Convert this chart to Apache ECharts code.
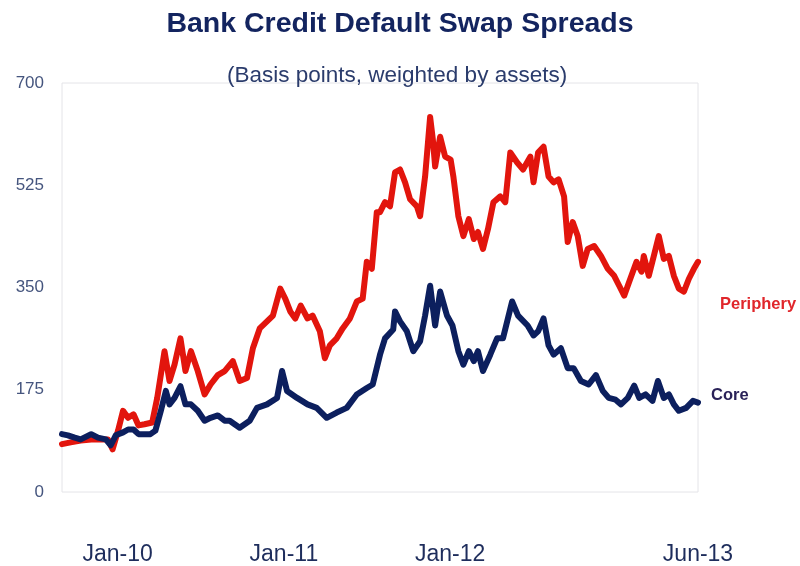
<!DOCTYPE html>
<html>
<head>
<meta charset="utf-8">
<script src="https://cdn.jsdelivr.net/npm/echarts@6/dist/echarts.min.js"></script>
<style>
  html, body { margin: 0; padding: 0; background: #ffffff; }
  #chart { width: 800px; height: 566px; }
</style>
</head>
<body>
<div id="chart"></div>
<script>
// Bank CDS spreads, basis points weighted by assets
const coreDates = [
  '2009-09-01','2009-09-14','2009-09-29','2009-10-12','2009-11-04','2009-11-19','2009-12-06','2009-12-17','2009-12-28',
  '2010-01-13','2010-01-24','2010-02-05','2010-02-16','2010-03-01','2010-03-14','2010-03-25','2010-04-06','2010-04-17',
  '2010-04-25','2010-05-06','2010-05-19','2010-05-30','2010-06-11','2010-06-26','2010-07-11','2010-07-24','2010-08-09',
  '2010-08-24','2010-09-04','2010-09-26','2010-10-18','2010-11-03','2010-11-25','2010-12-17','2010-12-28','2011-01-08',
  '2011-01-30','2011-02-22','2011-03-14','2011-04-05','2011-04-27','2011-05-19','2011-06-10','2011-07-02','2011-07-15',
  '2011-07-31','2011-08-11','2011-08-29','2011-09-02','2011-09-13','2011-09-28','2011-10-12','2011-10-27','2011-11-07',
  '2011-11-18','2011-11-29','2011-12-10','2011-12-25','2012-01-06','2012-01-19','2012-01-30','2012-02-11','2012-02-22',
  '2012-03-02','2012-03-13','2012-03-29','2012-04-13','2012-04-26','2012-05-16','2012-05-29','2012-06-19','2012-07-02',
  '2012-07-12','2012-07-24','2012-08-04','2012-08-15','2012-08-31','2012-09-15','2012-09-28','2012-10-14','2012-10-31',
  '2012-11-16','2012-12-01','2012-12-14','2012-12-29','2013-01-10','2013-01-25','2013-02-08','2013-02-19','2013-03-05',
  '2013-03-20','2013-04-01','2013-04-14','2013-04-25','2013-05-06','2013-05-17','2013-06-02','2013-06-17','2013-06-28'
];
const coreValues = [
  99, 97, 93, 90, 99, 93, 90, 80, 97,
  102, 107, 107, 99, 99, 99, 105, 139, 173,
  150, 161, 181, 150, 150, 139, 122, 127, 131,
  122, 122, 110, 122, 144, 150, 161, 207, 173,
  161, 150, 144, 127, 136, 144, 167, 178, 184,
  235, 263, 278, 309, 292, 275, 241, 258, 302,
  353, 285, 343, 302, 285, 241, 218, 241, 224,
  241, 207, 235, 263, 263, 326, 302, 285, 268,
  275, 297, 251, 235, 246, 212, 212, 190, 184,
  200, 173, 161, 158, 150, 161, 182, 161, 167,
  156, 190, 161, 167, 150, 139, 144, 156, 153
];

const peripheryDates = [
  '2009-09-01','2009-09-20','2009-10-12','2009-11-04','2009-12-11','2009-12-21','2010-01-02','2010-01-13','2010-01-24',
  '2010-02-05','2010-02-16','2010-03-01','2010-03-18','2010-03-29','2010-04-14','2010-04-25','2010-05-06','2010-05-19',
  '2010-05-30','2010-06-11','2010-06-26','2010-07-11','2010-07-24','2010-08-09','2010-08-24','2010-09-11','2010-09-26',
  '2010-10-12','2010-10-25','2010-11-09','2010-11-25','2010-12-08','2010-12-24','2011-01-04','2011-01-15','2011-01-26',
  '2011-02-07','2011-02-22','2011-03-05','2011-03-21','2011-04-01','2011-04-12','2011-04-27','2011-05-10','2011-05-26',
  '2011-06-10','2011-06-23','2011-07-02','2011-07-13','2011-07-24','2011-07-31','2011-08-11','2011-08-22','2011-09-02',
  '2011-09-13','2011-09-24','2011-10-05','2011-10-20','2011-10-27','2011-11-07','2011-11-18','2011-11-24','2011-11-29',
  '2011-12-10','2011-12-21','2012-01-02','2012-01-08','2012-01-19','2012-01-30','2012-02-11','2012-02-22','2012-03-02',
  '2012-03-13','2012-03-24','2012-04-05','2012-04-20','2012-05-01','2012-05-12','2012-05-27','2012-06-09','2012-06-25',
  '2012-07-02','2012-07-12','2012-07-24','2012-08-04','2012-08-15','2012-08-26','2012-09-07','2012-09-15','2012-09-26',
  '2012-10-07','2012-10-18','2012-10-29','2012-11-12','2012-11-27','2012-12-12','2012-12-26','2013-01-06','2013-01-17',
  '2013-01-28','2013-02-13','2013-02-24','2013-03-01','2013-03-12','2013-03-23','2013-04-03','2013-04-14','2013-04-25',
  '2013-05-06','2013-05-17','2013-05-28','2013-06-08','2013-06-19','2013-06-28'
];
const peripheryValues = [
  82, 85, 88, 90, 90, 73, 105, 139, 127,
  133, 114, 116, 119, 161, 241, 190, 218, 263,
  207, 241, 207, 167, 184, 200, 207, 224, 190,
  195, 246, 280, 292, 302, 348, 331, 309, 297,
  319, 297, 302, 275, 229, 251, 263, 280, 297,
  326, 331, 394, 382, 479, 479, 496, 489, 547,
  552, 530, 501, 489, 472, 540, 642, 603, 557,
  608, 574, 569, 540, 472, 438, 467, 433, 445,
  416, 450, 496, 506, 496, 581, 564, 552, 574,
  530, 581, 591, 540, 530, 535, 506, 428, 462,
  438, 387, 416, 421, 404, 382, 370, 353, 336,
  360, 394, 377, 404, 370, 404, 438, 399, 404,
  370, 348, 343, 365, 382, 394
];

// Axis ticks
const xStart = '2009-09-01';
const xEnd = '2013-06-28';
const xTickDates = ['2010-01-01', '2011-01-01', '2012-01-01', '2013-06-28'];
const xTickLabels = ['Jan-10', 'Jan-11', 'Jan-12', 'Jun-13'];
const yTicks = [0, 175, 350, 525, 700];

const toTime = d => Date.UTC(+d.slice(0, 4), +d.slice(5, 7) - 1, +d.slice(8, 10));
const pair = (dates, values) => dates.map((d, i) => [toTime(d), values[i]]);
const xTickTimes = xTickDates.map(toTime);

const FONT = '"Liberation Sans", Arial, Helvetica, sans-serif';
const chart = echarts.init(document.getElementById('chart'), null, { renderer: 'canvas' });

chart.setOption({
  backgroundColor: '#ffffff',
  animation: false,
  title: [
    {
      text: 'Bank Credit Default Swap Spreads',
      left: 'center', top: 5,
      textStyle: { fontFamily: FONT, fontSize: 28.5, fontWeight: 'bold', color: '#13245f' }
    },
    {
      text: '(Basis points, weighted by assets)',
      left: 222, top: 59,
      textStyle: { fontFamily: FONT, fontSize: 22.5, fontWeight: 'normal', color: '#2b3c6c' }
    }
  ],
  grid: {
    left: 62, right: 102, top: 83, bottom: 71,
    show: true, borderColor: '#e4e4e8', borderWidth: 1, backgroundColor: '#ffffff'
  },
  xAxis: {
    type: 'value',
    min: toTime(xStart),
    max: toTime(xEnd),
    axisLine: { show: false },
    axisTick: { show: false },
    splitLine: { show: false },
    axisLabel: {
      customValues: xTickTimes,
      margin: 51,
      fontFamily: FONT, fontSize: 23, color: '#1e2d5c',
      formatter: function (v) {
        let best = 0;
        xTickTimes.forEach((tt, i) => { if (Math.abs(tt - v) < Math.abs(xTickTimes[best] - v)) best = i; });
        return xTickLabels[best];
      }
    }
  },
  yAxis: {
    type: 'value',
    min: 0, max: 700, interval: 175,
    axisLine: { show: false },
    axisTick: { show: false },
    splitLine: { show: false },
    axisLabel: {
      margin: 18,
      padding: [5, 0, 0, 0],
      fontFamily: FONT, fontSize: 17, color: '#45557e',
      formatter: v => (yTicks.indexOf(v) >= 0 ? String(v) : '')
    }
  },
  series: [
    {
      name: 'Periphery',
      type: 'line',
      data: pair(peripheryDates, peripheryValues),
      showSymbol: false,
      lineStyle: { color: '#e2150d', width: 6, join: 'round', cap: 'round' },
      itemStyle: { color: '#e2150d' },
      z: 2
    },
    {
      name: 'Core',
      type: 'line',
      data: pair(coreDates, coreValues),
      showSymbol: false,
      lineStyle: { color: '#0c1f5e', width: 6, join: 'round', cap: 'round' },
      itemStyle: { color: '#0c1f5e' },
      z: 3
    }
  ],
  graphic: [
    {
      type: 'text', left: 720, top: 296,
      style: { text: 'Periphery', fill: '#e0262b', font: 'bold 16.5px ' + FONT }
    },
    {
      type: 'text', left: 711, top: 387,
      style: { text: 'Core', fill: '#2a2258', font: 'bold 16.5px ' + FONT }
    }
  ]
});
</script>
</body>
</html>
